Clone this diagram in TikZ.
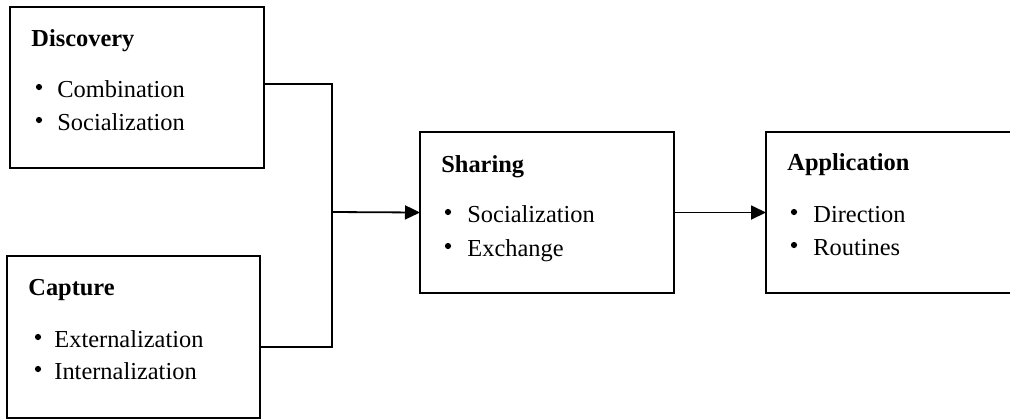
\documentclass[tikz,border=0pt]{standalone}
\usepackage{fontspec}
\setmainfont{Liberation Serif}
\usetikzlibrary{arrows.meta,calc}
\begin{document}
\begin{tikzpicture}[x=0.5pt,y=-0.5pt,
  every node/.style={font=\fontsize{12.2}{14}\selectfont},
  boxnode/.style={draw, line width=1pt, inner sep=0pt, outer sep=0pt, anchor=north west, minimum height=80.5pt},
  ttl/.style={anchor=base west, inner sep=0pt, font=\fontsize{12.2}{14}\selectfont\bfseries},
  bul/.style={circle, fill, inner sep=0pt, minimum size=3.1pt, anchor=center},
  itm/.style={anchor=base west, inner sep=0pt},
  conn/.style={line width=0.9pt},
  arr/.style={line width=0.9pt, -{Triangle[length=7.5pt,width=7pt]}}
]
\clip (0,0) rectangle (1010,419);
\useasboundingbox (0,0) rectangle (1010,419);

% boxes
\node[boxnode, minimum width=127pt] (disc) at (10,7) {};
\node[boxnode, minimum width=126.5pt, minimum height=81pt] (capt) at (7,256) {};
\node[boxnode, minimum width=127pt] (share) at (420,132) {};
\node[boxnode, minimum width=150pt] (appl) at (766,132) {};

% Discovery text
\node[ttl] (discT) at ([xshift=10.5pt,yshift=-19.5pt]disc.north west) {Discovery};
\node[bul] (discB1) at ([xshift=14.5pt,yshift=-40pt]disc.north west) {};
\node[itm] (discI1) at ([xshift=23.5pt,yshift=-45pt]disc.north west) {Combination};
\node[bul] (discB2) at ([xshift=14.5pt,yshift=-56.5pt]disc.north west) {};
\node[itm] (discI2) at ([xshift=23.5pt,yshift=-61.5pt]disc.north west) {Socialization};

% Capture text
\node[ttl] (captT) at ([xshift=10.5pt,yshift=-19.5pt]capt.north west) {Capture};
\node[bul] (captB1) at ([xshift=15.5pt,yshift=-40.5pt]capt.north west) {};
\node[itm] (captI1) at ([xshift=23.5pt,yshift=-45.5pt]capt.north west) {Externalization};
\node[bul] (captB2) at ([xshift=15.5pt,yshift=-56.5pt]capt.north west) {};
\node[itm] (captI2) at ([xshift=23.5pt,yshift=-61.5pt]capt.north west) {Internalization};

% Sharing text
\node[ttl] (shareT) at ([xshift=10.5pt,yshift=-20pt]share.north west) {Sharing};
\node[bul] (shareB1) at ([xshift=14pt,yshift=-40pt]share.north west) {};
\node[itm] (shareI1) at ([xshift=23.5pt,yshift=-45pt]share.north west) {Socialization};
\node[bul] (shareB2) at ([xshift=14pt,yshift=-57pt]share.north west) {};
\node[itm] (shareI2) at ([xshift=23.5pt,yshift=-62pt]share.north west) {Exchange};

% Application text
\node[ttl] (applT) at ([xshift=10.5pt,yshift=-19pt]appl.north west) {Application};
\node[bul] (applB1) at ([xshift=14pt,yshift=-40pt]appl.north west) {};
\node[itm] (applI1) at ([xshift=23.5pt,yshift=-45pt]appl.north west) {Direction};
\node[bul] (applB2) at ([xshift=14pt,yshift=-56.5pt]appl.north west) {};
\node[itm] (applI2) at ([xshift=23.5pt,yshift=-61.5pt]appl.north west) {Routines};

% connectors
\coordinate (j) at (332,212);
\draw[conn] ([yshift=1.75pt]disc.east) -| (j);
\draw[conn] ([yshift=-5pt]capt.east) -| (j);
\draw[arr] (j) -- (share.west);
\draw[arr] (share.east) -- (appl.west);
\end{tikzpicture}
\end{document}
